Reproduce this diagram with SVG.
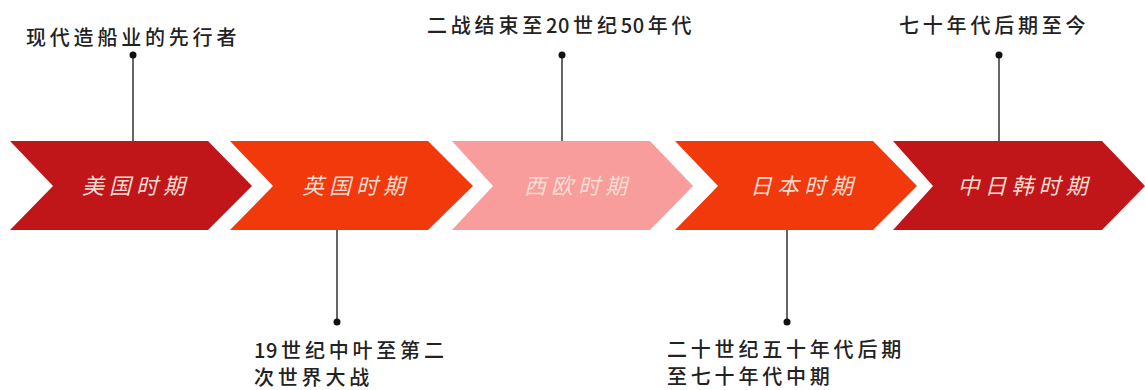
<svg xmlns="http://www.w3.org/2000/svg" width="1145" height="390" viewBox="0 0 1145 390">
<style>
.lbl{font-family:"Noto Sans CJK SC","Noto Sans",sans-serif;font-size:20px;font-weight:500;fill:#222;letter-spacing:3.8px}
.num{letter-spacing:0.5px}
.ct{font-family:"Noto Sans CJK SC","Noto Sans",sans-serif;font-size:22px;font-style:italic;fill:#f6ddd3;letter-spacing:5px;text-anchor:middle}
.ln{stroke:#333;stroke-width:1.5;fill:none}
.dot{fill:#111}
</style>
<rect width="1145" height="390" fill="#fff"/>
<g id="connectors">
<line class="ln" x1="133" y1="55" x2="133" y2="141"/><circle class="dot" cx="133" cy="55" r="3.5"/>
<line class="ln" x1="337" y1="230" x2="337" y2="322"/><circle class="dot" cx="337" cy="322" r="3.5"/>
<line class="ln" x1="562" y1="55" x2="562" y2="141"/><circle class="dot" cx="562" cy="55" r="3.5"/>
<line class="ln" x1="787" y1="230" x2="787" y2="322"/><circle class="dot" cx="787" cy="322" r="3.5"/>
<line class="ln" x1="999" y1="55" x2="999" y2="141"/><circle class="dot" cx="999" cy="55" r="3.5"/>
</g>
<g id="node-usa">
<polygon points="10,141 208,141 252,186 208,230 10,230 53,186" fill="#c0161a"/>
<text class="ct" x="136" y="194">美国时期</text>
</g>
<g id="node-uk">
<polygon points="230,141 428,141 473,186 428,230 230,230 273,186" fill="#f1390b"/>
<text class="ct" x="356" y="194">英国时期</text>
</g>
<g id="node-we">
<polygon points="452,141 650,141 693,186 650,230 452,230 493,186" fill="#f99c9c"/>
<text class="ct" x="578" y="194">西欧时期</text>
</g>
<g id="node-jp">
<polygon points="675,141 873,141 917,186 873,230 675,230 718,186" fill="#f1390b"/>
<text class="ct" x="804" y="194">日本时期</text>
</g>
<g id="node-cjk">
<polygon points="893,141 1102,141 1145,186 1102,230 893,230 933,186" fill="#c0161a"/>
<text class="ct" x="1025" y="194">中日韩时期</text>
</g>
<g id="labels">
<text class="lbl" x="26" y="45">现代造船业的先行者</text>
<text class="lbl" x="427" y="33">二战结束至<tspan class="num">2</tspan>0世纪<tspan class="num">5</tspan>0年代</text>
<text class="lbl" x="899" y="33">七十年代后期至今</text>
<text class="lbl" x="254" y="358"><tspan class="num">1</tspan>9世纪中叶至第二</text>
<text class="lbl" x="254" y="385">次世界大战</text>
<text class="lbl" x="667" y="357">二十世纪五十年代后期</text>
<text class="lbl" x="667" y="384">至七十年代中期</text>
</g>
</svg>
